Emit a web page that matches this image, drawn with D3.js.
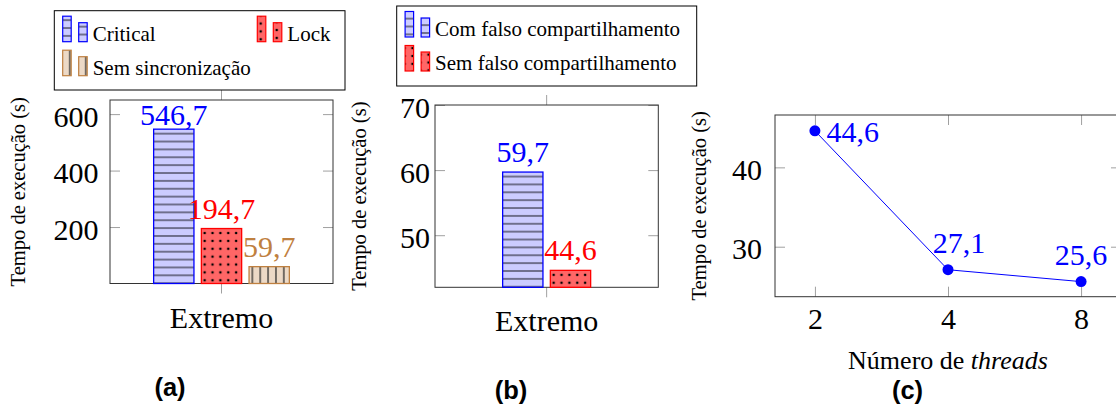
<!DOCTYPE html>
<html><head><meta charset="utf-8">
<script src="https://cdn.jsdelivr.net/npm/d3@7"></script>
<style>
html,body{margin:0;padding:0;background:#fff;}
svg{display:block;}
text{font-family:"Liberation Serif","Times New Roman",serif;}
</style></head><body>
<svg id="chart" width="1116" height="408"></svg>
<script>
// ---------------- data ----------------
const categories = ["Extremo"];
const seriesA = ["Critical", "Lock", "Sem sincronização"];
const valuesA = [546.7, 194.7, 59.7];
const ticksA = [200, 400, 600];
const seriesB = ["Com falso compartilhamento", "Sem falso compartilhamento"];
const valuesB = [59.7, 44.6];
const ticksB = [50, 60, 70];
const threads = ["2", "4", "8"];
const timesC = [44.6, 27.1, 25.6];
const ticksC = [30, 40];
const yTitle = "Tempo de execução (s)";
const xTitleC = ["Número de ", "threads"];
const panelLabels = ["(a)", "(b)", "(c)"];

// ---------------- styles ----------------
const BLUE = {fill:"#ccccff", stroke:"#0000ff", text:"#0000ff", pat:"h"};
const RED = {fill:"#ff6666", stroke:"#ff0000", text:"#ff0000", pat:"d"};
const BROWN = {fill:"#ecd9c6", stroke:"#bf8040", text:"#bf8040", pat:"v"};
const stylesA = [BLUE, RED, BROWN];
const stylesB = [BLUE, RED];
const labelPosC = ["right", "aboveRight", "above"];

const fmt = d3.formatLocale({decimal: ",", thousands: ".", grouping: [3], currency: ["", ""]}).format(".1f");

const svg = d3.select("#chart");
const defs = svg.append("defs");
const S = 7.87;
let patId = 0;
function pattern(st, ox, oy) {
  const id = "pat" + (patId++);
  const p = defs.append("pattern").attr("id", id).attr("patternUnits", "userSpaceOnUse")
    .attr("x", ox).attr("y", oy).attr("width", S).attr("height", S);
  p.append("rect").attr("width", S).attr("height", S).attr("fill", st.fill);
  if (st.pat === "h") {
    p.append("line").attr("x1", 0).attr("x2", S).attr("y1", S/2).attr("y2", S/2)
      .attr("stroke", "#333344").attr("stroke-width", 1.2);
  } else if (st.pat === "v") {
    p.append("line").attr("y1", 0).attr("y2", S).attr("x1", S/2).attr("x2", S/2)
      .attr("stroke", "#222").attr("stroke-width", 1.2);
  } else {
    p.append("circle").attr("cx", S/2).attr("cy", S/2).attr("r", 1.3).attr("fill", "#000");
  }
  return "url(#" + id + ")";
}

const GRAY = "#a0a0a0";
function styleAxis(g, labels) {
  g.select(".domain").remove();
  g.selectAll(".tick line").attr("stroke", GRAY).attr("stroke-width", 1);
  g.selectAll(".tick text").attr("fill", "#000").style("font-family", '"Liberation Serif", serif')
    .style("font-size", "30px");
  if (!labels) g.selectAll(".tick text").remove();
}

// ---------------- bar panel ----------------
function barPanel(o) {
  const g = svg.append("g");
  const y = d3.scaleLinear().domain(o.domain).range([o.bottom, o.top]);
  const x0 = d3.scaleBand().domain(categories).range([o.left, o.right]);
  const n = o.series.length, step = 47.7;
  const x1 = d3.scaleBand().domain(o.series).range([-n*step/2, n*step/2]).paddingInner(0.155).paddingOuter(0.0775);

  // ticks
  g.append("g").attr("transform", `translate(${o.left},0)`)
    .call(d3.axisLeft(y).tickValues(o.ticks).tickSizeInner(-10).tickSizeOuter(0).tickPadding(o.yPad))
    .call(a => { styleAxis(a, true); a.selectAll(".tick text").attr("dy", "0.4em"); });
  g.append("g").attr("transform", `translate(${o.right},0)`)
    .call(d3.axisRight(y).tickValues(o.ticks).tickSizeInner(-10).tickSizeOuter(0))
    .call(a => styleAxis(a, false));
  g.append("g").attr("transform", `translate(0,${o.bottom})`)
    .call(d3.axisBottom(x0).tickSizeInner(10).tickSizeOuter(0).tickPadding(12.7))
    .call(a => styleAxis(a, true));
  g.append("g").attr("transform", `translate(0,${o.top})`)
    .call(d3.axisTop(x0).tickSizeInner(10).tickSizeOuter(0))
    .call(a => styleAxis(a, false));

  // box
  g.append("rect").attr("x", o.left).attr("y", o.top).attr("width", o.right - o.left)
    .attr("height", o.bottom - o.top).attr("fill", "none").attr("stroke", "#333").attr("stroke-width", 1);

  // bars
  const cx = x0(categories[0]) + x0.bandwidth()/2;
  o.series.forEach((s, i) => {
    const st = o.styles[i];
    const bx = cx + x1(s), bw = x1.bandwidth();
    const by = y(o.values[i]);
    g.append("rect").attr("x", bx).attr("y", by).attr("width", bw).attr("height", y(o.domain[0]) - by)
      .attr("fill", pattern(st, bx + 3.3 - S/2, by + 4.5 - S/2))
      .attr("stroke", st.stroke).attr("stroke-width", 1.3);
    g.append("text").attr("x", bx + bw/2).attr("y", Math.max(by - 10, o.top + 25))
      .attr("text-anchor", "middle").attr("fill", st.text).style("font-size", "30px")
      .text(fmt(o.values[i]));
  });

  // y title
  g.append("text").attr("transform", `translate(${o.titleX},${(o.top + o.bottom)/2}) rotate(-90)`)
    .attr("text-anchor", "middle").style("font-size", "20.5px").text(yTitle);

  // legend
  const L = o.legend;
  const lg = svg.append("g").attr("transform", `translate(${L.x},${L.y})`);
  lg.append("rect").attr("width", L.w).attr("height", L.h).attr("fill", "#fff")
    .attr("stroke", "#000").attr("stroke-width", 1);
  o.series.forEach((s, i) => {
    const st = o.styles[i];
    const col = L.items[i][0], row = L.items[i][1];
    const tx = 38.4 + col * L.colW, ty = 30 + row * 34;
    [[-30, 25.5], [-14, 19]].forEach(([dx, h]) => {
      const rx = tx + dx, ry = ty + 1 - h;
      const px = st.pat === "v" ? rx - S/2 : rx + 4.2 - S/2;
      const py = st.pat === "h" ? ry + 9 - S/2 : ry + 4.5 - S/2;
      lg.append("rect").attr("x", rx).attr("y", ry).attr("width", 8.5).attr("height", h)
        .attr("fill", pattern(st, L.x + px, L.y + py))
        .attr("stroke", st.stroke).attr("stroke-width", 1.2);
    });
    lg.append("text").attr("x", tx).attr("y", ty).style("font-size", "21px").attr("fill", "#000").text(s);
  });
}

barPanel({left:110, right:333, top:100, bottom:283.5, domain:[0, 650], ticks:ticksA, yPad:11.5,
  series:seriesA, values:valuesA, styles:stylesA, titleX:25,
  legend:{x:54.3, y:10.7, w:290.7, h:79.3, colW:194.6, items:[[0,0],[1,0],[0,1]]}});
barPanel({left:435, right:658.3, top:105, bottom:287.3, domain:[42, 70], ticks:ticksB, yPad:5,
  series:seriesB, values:valuesB, styles:stylesB, titleX:366,
  legend:{x:396.7, y:6, w:300, h:80, colW:0, items:[[0,0],[0,1]]}});

// ---------------- line panel ----------------
(function linePanel() {
  const o = {left:775, right:1121, top:115, bottom:296.7};
  const g = svg.append("g");
  const x = d3.scalePoint().domain(threads).range([o.left, o.right]).padding(0.3);
  const y = d3.scaleLinear().domain([23.7, 46.6]).range([o.bottom, o.top]);

  g.append("g").attr("transform", `translate(${o.left},0)`)
    .call(d3.axisLeft(y).tickValues(ticksC).tickSizeInner(-10).tickSizeOuter(0).tickPadding(13))
    .call(a => { styleAxis(a, true); a.selectAll(".tick text").attr("dy", "0.4em"); });
  g.append("g").attr("transform", `translate(${o.right},0)`)
    .call(d3.axisRight(y).tickValues(ticksC).tickSizeInner(-10).tickSizeOuter(0))
    .call(a => styleAxis(a, false));
  g.append("g").attr("transform", `translate(0,${o.bottom})`)
    .call(d3.axisBottom(x).tickSizeInner(-10).tickSizeOuter(0).tickPadding(11.3))
    .call(a => styleAxis(a, true));
  g.append("g").attr("transform", `translate(0,${o.top})`)
    .call(d3.axisTop(x).tickSizeInner(-10).tickSizeOuter(0))
    .call(a => styleAxis(a, false));

  g.append("rect").attr("x", o.left).attr("y", o.top).attr("width", o.right - o.left)
    .attr("height", o.bottom - o.top).attr("fill", "none").attr("stroke", "#333").attr("stroke-width", 1);

  const pts = threads.map((t, i) => [x(t), y(timesC[i])]);
  g.append("path").attr("d", d3.line()(pts)).attr("fill", "none").attr("stroke", "#0000ff").attr("stroke-width", 1);
  g.selectAll("circle.pt").data(pts).join("circle").attr("class", "pt")
    .attr("cx", d => d[0]).attr("cy", d => d[1]).attr("r", 5.5).attr("fill", "#0000ff");
  pts.forEach((p, i) => {
    const pos = labelPosC[i];
    const t = g.append("text").attr("fill", "#0000ff").style("font-size", "30px").text(fmt(timesC[i]));
    if (pos === "right") t.attr("x", p[0] + 11.7).attr("y", p[1] + 11).attr("text-anchor", "start");
    else if (pos === "aboveRight") t.attr("x", p[0] + 11).attr("y", p[1] - 17).attr("text-anchor", "middle");
    else t.attr("x", p[0]).attr("y", p[1] - 17).attr("text-anchor", "middle");
  });

  g.append("text").attr("transform", `translate(706,${(o.top + o.bottom)/2}) rotate(-90)`)
    .attr("text-anchor", "middle").style("font-size", "20.5px").text(yTitle);
  const xt = g.append("text").attr("x", (o.left + o.right)/2).attr("y", 369.3)
    .attr("text-anchor", "middle").style("font-size", "26px");
  xt.append("tspan").text(xTitleC[0]);
  xt.append("tspan").style("font-style", "italic").text(xTitleC[1]);
})();

// ---------------- panel captions ----------------
const capPos = [[170, 396], [511, 399], [907.5, 398.5]];
svg.selectAll("text.cap").data(panelLabels).join("text").attr("class", "cap")
  .attr("x", (d, i) => capPos[i][0]).attr("y", (d, i) => capPos[i][1])
  .attr("text-anchor", "middle")
  .style("font-family", '"Liberation Sans", Arial, sans-serif').style("font-weight", "bold")
  .style("font-size", "25.5px").text(d => d);
</script>
</body></html>
